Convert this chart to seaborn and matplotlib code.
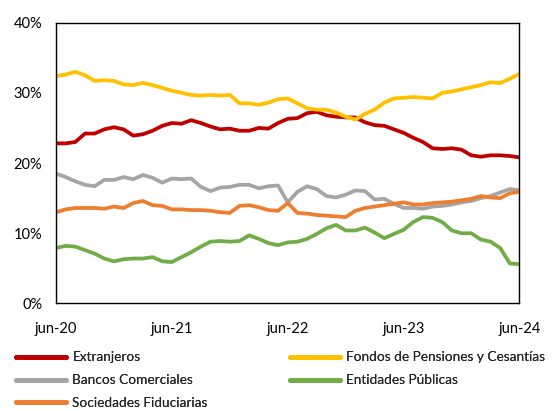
import numpy as np
import pandas as pd
import matplotlib
matplotlib.use("Agg")
import matplotlib.pyplot as plt
import seaborn as sns

# Monthly holdings share (%), jun-20 .. jun-24
months = list(range(49))
tick_pos = [0, 12, 24, 36, 48]
tick_labels = ["jun-20", "jun-21", "jun-22", "jun-23", "jun-24"]

extranjeros = [22.8, 22.8, 23.0, 24.2, 24.2, 24.8, 25.1, 24.8, 23.9, 24.1, 24.6, 25.3,
               25.7, 25.6, 26.1, 25.7, 25.2, 24.8, 24.9, 24.6, 24.6, 25.0, 24.9, 25.7,
               26.3, 26.4, 27.1, 27.3, 26.8, 26.6, 26.5, 26.5, 25.8, 25.4, 25.3, 24.8,
               24.3, 23.6, 23.0, 22.1, 22.0, 22.1, 21.9, 21.1, 20.9, 21.1, 21.1, 21.0,
               20.8]
fondos = [32.4, 32.6, 33.0, 32.5, 31.7, 31.8, 31.7, 31.2, 31.1, 31.4, 31.1, 30.7,
          30.3, 30.0, 29.7, 29.6, 29.7, 29.6, 29.7, 28.5, 28.5, 28.3, 28.6, 29.1,
          29.2, 28.5, 27.8, 27.6, 27.6, 27.2, 26.6, 26.2, 27.0, 27.6, 28.6, 29.2,
          29.3, 29.4, 29.3, 29.2, 30.0, 30.2, 30.5, 30.8, 31.1, 31.5, 31.4, 32.0,
          32.7]
bancos = [18.5, 18.0, 17.4, 16.9, 16.7, 17.6, 17.6, 18.0, 17.7, 18.3, 17.9, 17.2,
          17.8, 17.7, 17.8, 16.6, 16.0, 16.5, 16.6, 16.9, 16.9, 16.4, 16.7, 16.8,
          14.4, 15.9, 16.7, 16.3, 15.3, 15.1, 15.5, 16.1, 16.0, 14.8, 14.9, 14.2,
          13.6, 13.6, 13.5, 13.8, 13.9, 14.1, 14.4, 14.6, 15.0, 15.3, 15.8, 16.3,
          16.1]
publicas = [7.9, 8.2, 8.1, 7.6, 7.1, 6.4, 6.0, 6.3, 6.4, 6.4, 6.6, 6.0,
            5.9, 6.6, 7.3, 8.1, 8.8, 8.9, 8.8, 8.9, 9.7, 9.2, 8.6, 8.3,
            8.7, 8.8, 9.2, 9.9, 10.7, 11.2, 10.4, 10.4, 10.8, 10.1, 9.3, 9.9,
            10.5, 11.6, 12.3, 12.2, 11.6, 10.4, 10.0, 10.0, 9.1, 8.8, 7.9, 5.7,
            5.6]
fiduciarias = [13.0, 13.4, 13.6, 13.6, 13.6, 13.5, 13.8, 13.6, 14.3, 14.6, 14.0, 13.9,
               13.4, 13.4, 13.3, 13.3, 13.2, 13.0, 12.9, 13.9, 14.0, 13.7, 13.3, 13.2,
               14.3, 12.9, 12.8, 12.6, 12.5, 12.4, 12.3, 13.2, 13.6, 13.8, 14.0, 14.2,
               14.4, 14.1, 14.1, 14.3, 14.4, 14.5, 14.7, 14.9, 15.3, 15.1, 15.0, 15.7,
               15.9]

series = {
    "Extranjeros": extranjeros,
    "Fondos de Pensiones y Cesantías": fondos,
    "Bancos Comerciales": bancos,
    "Entidades Públicas": publicas,
    "Sociedades Fiduciarias": fiduciarias,
}
colors = {
    "Extranjeros": "#C00000",
    "Fondos de Pensiones y Cesantías": "#FFC000",
    "Bancos Comerciales": "#A5A5A5",
    "Entidades Públicas": "#70AD47",
    "Sociedades Fiduciarias": "#ED7D31",
}

df = pd.concat(
    [pd.DataFrame({"mes": months, "valor": vals, "grupo": name}) for name, vals in series.items()],
    ignore_index=True,
)

sns.set_style("white")
plt.rcParams["font.family"] = ["Lato", "DejaVu Sans"]

fig = plt.figure(figsize=(5.58, 4.11), dpi=100)
ax = fig.add_axes([0.1004, 0.2616, 0.8306, 0.6834])

sns.lineplot(data=df, x="mes", y="valor", hue="grupo", palette=colors,
             linewidth=2.7, ax=ax, legend=False)

ax.set_xlim(0, 48)
ax.set_ylim(0, 40)
ax.set_xticks(tick_pos)
ax.set_xticklabels(tick_labels)
ax.set_yticks([0, 10, 20, 30, 40])
ax.set_yticklabels([f"{v}%" for v in [0, 10, 20, 30, 40]])
ax.set_xlabel("")
ax.set_ylabel("")
ax.tick_params(axis="both", direction="out", length=5, width=1, color="black",
               labelsize=10.5, labelcolor="black")
ax.tick_params(axis="x", pad=8)
ax.tick_params(axis="y", pad=5)
for sp in ax.spines.values():
    sp.set_visible(True)
    sp.set_color("black")
    sp.set_linewidth(1.0)

# Two legend columns placed independently below the axes
legend_kw = dict(loc="upper left", frameon=False, fontsize=9.8, handlelength=3.65,
                 handletextpad=0.5, labelspacing=0.8, borderaxespad=0, borderpad=0)
col1 = ["Extranjeros", "Bancos Comerciales", "Sociedades Fiduciarias"]
col2 = ["Fondos de Pensiones y Cesantías", "Entidades Públicas"]
for names, x0 in [(col1, 16 / 558), (col2, 290 / 558)]:
    handles = [plt.Line2D([], [], color=colors[n], linewidth=3.5) for n in names]
    leg = fig.legend(handles, names, bbox_to_anchor=(x0, 0.145), **legend_kw)
    fig.add_artist(leg)

fig.savefig("out.png", dpi=100)
